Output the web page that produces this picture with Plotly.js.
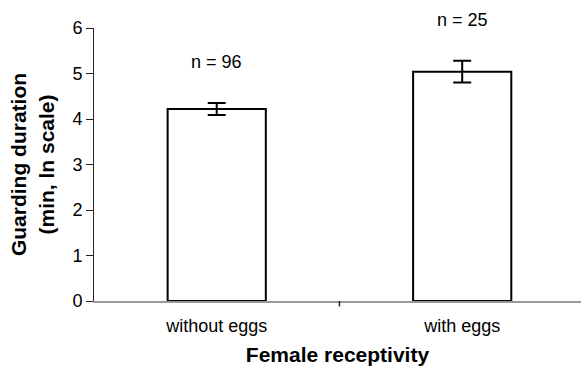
<!DOCTYPE html>
<html>
<head>
<meta charset="utf-8">
<script src="https://cdn.plot.ly/plotly-3.0.1.min.js"></script>
<style>html,body{margin:0;padding:0;background:#fff;}#chart{width:581px;height:371px;}</style>
</head>
<body>
<div id="chart"></div>
<script>
const categories = ["without eggs", "with eggs"];
const meanValues = [4.22, 5.04];
const errorValues = [0.13, 0.24];
const sampleLabels = ["n = 96", "n = 25"];
const yTicks = [0, 1, 2, 3, 4, 5, 6];
const yRange = [0, 6];

const font = "Arial, 'Liberation Sans', sans-serif";

const trace = {
  type: "bar",
  x: categories,
  y: meanValues,
  width: 0.4,
  marker: {color: "#ffffff", line: {color: "#000000", width: 2}},
  error_y: {type: "data", array: errorValues, visible: true, color: "#000000", thickness: 2, width: 9},
  hoverinfo: "none"
};

// n labels sit a fixed distance above each error bar
const annotations = categories.map((c, i) => ({
  x: c,
  y: (meanValues[i] + errorValues[i] - yRange[0]) / (yRange[1] - yRange[0]),
  xref: "x", yref: "paper", yanchor: "bottom", yshift: 29,
  text: sampleLabels[i], showarrow: false,
  font: {family: font, size: 18, color: "#000"}
}));

const layout = {
  width: 581, height: 371,
  margin: {l: 94, r: 0, t: 28, b: 70},
  paper_bgcolor: "#fff", plot_bgcolor: "#fff",
  showlegend: false,
  font: {family: font, color: "#000"},
  xaxis: {
    range: [-0.5, 1.484],
    showline: true, linecolor: "#999999", linewidth: 1.5,
    ticks: "", showgrid: false, zeroline: false,
    ticklabelstandoff: 8,
    tickfont: {family: font, size: 18, color: "#000"},
    title: {text: "<b>Female receptivity</b>", font: {family: font, size: 21, color: "#000"}, standoff: 12}
  },
  yaxis: {
    range: yRange, tickvals: yTicks,
    showline: true, linecolor: "#222222", linewidth: 1,
    ticks: "outside", ticklen: 7, tickcolor: "#222222",
    showgrid: false, zeroline: false,
    tickfont: {family: font, size: 18, color: "#000"},
    title: {text: "<b>Guarding duration<br>(min, ln scale)</b>", font: {family: font, size: 21, color: "#000"}, standoff: 12}
  },
  shapes: [{type: "line", xref: "x", yref: "paper", x0: 0.5, x1: 0.5, y0: 0, y1: -0.02, line: {color: "#222", width: 1.5}}],
  annotations: annotations
};

Plotly.newPlot("chart", [trace], layout, {staticPlot: true, displayModeBar: false});
</script>
</body>
</html>
